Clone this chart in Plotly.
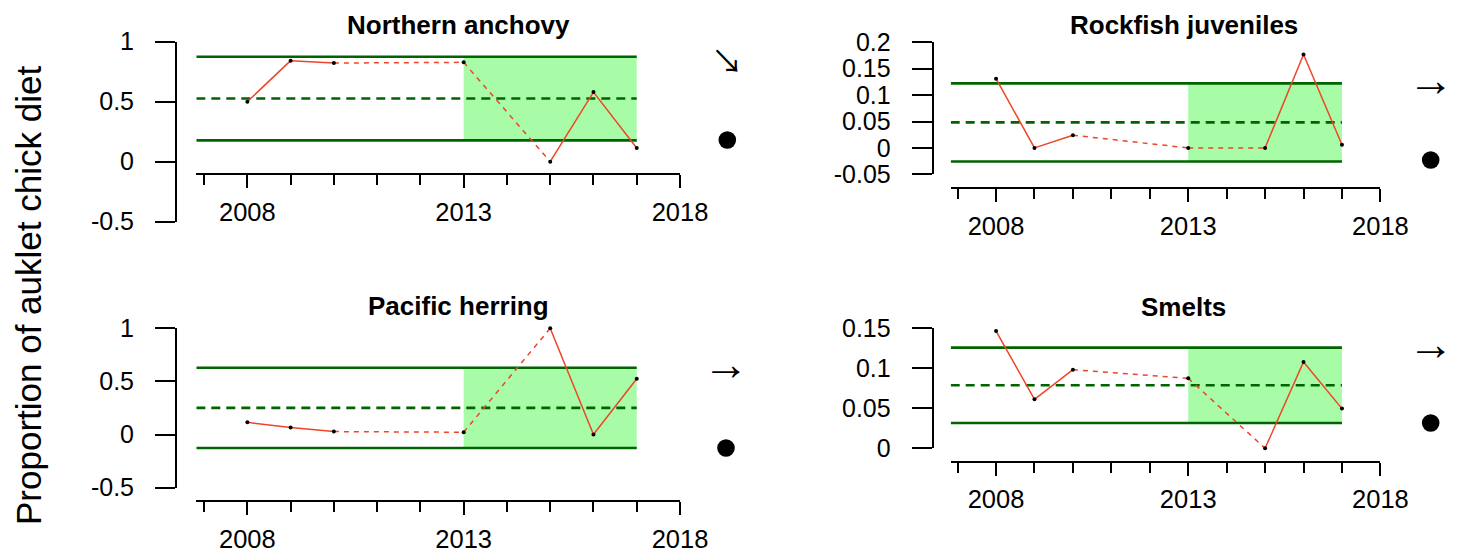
import numpy as np
import plotly.graph_objects as go

W, H = 1458, 555

# Survey years (2011, 2012 and 2014 were not sampled)
years = [2008, 2009, 2010, 2013, 2015, 2016, 2017]

species = ["Northern anchovy", "Rockfish juveniles", "Pacific herring", "Smelts"]

# Proportion of auklet chick diet by prey group
anchovy = [0.500, 0.842, 0.822, 0.828, 0.000, 0.580, 0.114]
rockfish = [0.131, 0.000, 0.024, 0.000, 0.000, 0.177, 0.006]
herring = [0.115, 0.066, 0.028, 0.022, 1.000, 0.000, 0.526]
smelts = [0.1466, 0.0612, 0.0983, 0.0875, 0.000, 0.108, 0.0496]

# Trend over the recent period (arrow) and status marker
trend_symbols = ["↘", "→", "→", "→"]

x_ticks = [2008, 2013, 2018]
x_tick_labels = ["2008", "2013", "2018"]

y_ticks_anchovy = [-0.5, 0, 0.5, 1]
y_labels_anchovy = ["-0.5", "0", "0.5", "1"]
y_ticks_rockfish = [-0.05, 0, 0.05, 0.1, 0.15, 0.2]
y_labels_rockfish = ["-0.05", "0", "0.05", "0.1", "0.15", "0.2"]
y_ticks_herring = [-0.5, 0, 0.5, 1]
y_labels_herring = ["-0.5", "0", "0.5", "1"]
y_ticks_smelts = [0, 0.05, 0.1, 0.15]
y_labels_smelts = ["0", "0.05", "0.1", "0.15"]

recent_start, recent_end = 2013, 2017
x_start = 2006.82

series = [anchovy, rockfish, herring, smelts]
y_ticks = [y_ticks_anchovy, y_ticks_rockfish, y_ticks_herring, y_ticks_smelts]
y_labels = [y_labels_anchovy, y_labels_rockfish, y_labels_herring, y_labels_smelts]

# Pixel geometry of each panel
geom = [
    dict(yx=176.0, xs=(196.3, 680.0), ys=(41.7, 221.7), xy=174.0,
         title=(458.3, 25.5), arrow=(727.0, 59.0), dot=(727.3, 140.0)),
    dict(yx=932.7, xs=(950.7, 1380.4), ys=(42.3, 174.3), xy=188.3,
         title=(1183.5, 25.5), arrow=(1430.5, 80.0), dot=(1430.7, 160.0)),
    dict(yx=176.0, xs=(196.3, 680.0), ys=(328.3, 487.7), xy=501.0,
         title=(458.3, 306.0), arrow=(725.5, 364.0), dot=(726.0, 448.0)),
    dict(yx=932.7, xs=(950.7, 1380.4), ys=(328.3, 448.3), xy=461.7,
         title=(1183.5, 307.0), arrow=(1430.5, 344.0), dot=(1430.7, 423.0)),
]

# glyph styling for the trend arrows
arrow_style = {
    "→": dict(family="Liberation Sans", size=46),
    "↘": dict(family="Noto Sans CJK JP", size=32),
}


def px(x):
    return x / W


def py(y):
    return 1 - y / H


FONT = "Liberation Sans, Arial, Helvetica, sans-serif"
RED = "#EE4428"
DKGREEN = "#006400"
FILL = "#A9FCA7"

fig = go.Figure()
shapes = []
annotations = []

for i, (name, vals, g) in enumerate(zip(species, series, geom)):
    n = i + 1
    xa = "x" if n == 1 else f"x{n}"
    ya = "y" if n == 1 else f"y{n}"
    xa_key = "xaxis" if n == 1 else f"xaxis{n}"
    ya_key = "yaxis" if n == 1 else f"yaxis{n}"

    v = np.array(vals, dtype=float)
    mean = v.mean()
    sd = v.std(ddof=1)

    # recent-period box spanning mean +/- 1 sd
    shapes.append(dict(type="rect", xref=xa, yref=ya, x0=recent_start, x1=recent_end,
                       y0=mean - sd, y1=mean + sd, fillcolor=FILL,
                       line=dict(width=0), layer="below"))
    for yv, dash in [(mean + sd, "solid"), (mean - sd, "solid"), (mean, "9px,6px")]:
        shapes.append(dict(type="line", xref=xa, yref=ya, x0=x_start, x1=recent_end,
                           y0=yv, y1=yv, line=dict(color=DKGREEN, width=2.6, dash=dash),
                           layer="below"))

    # consecutive years joined by solid lines, gaps bridged by dashed lines
    sx, sy, dx, dy = [], [], [], []
    for k in range(len(years) - 1):
        seg_x = [years[k], years[k + 1], None]
        seg_y = [vals[k], vals[k + 1], None]
        if years[k + 1] - years[k] == 1:
            sx += seg_x
            sy += seg_y
        else:
            dx += seg_x
            dy += seg_y
    fig.add_trace(go.Scatter(x=sx, y=sy, mode="lines", xaxis=xa, yaxis=ya,
                             line=dict(color=RED, width=1.5), cliponaxis=False,
                             showlegend=False, hoverinfo="skip"))
    fig.add_trace(go.Scatter(x=dx, y=dy, mode="lines", xaxis=xa, yaxis=ya,
                             line=dict(color=RED, width=1.5, dash="5px,5px"),
                             cliponaxis=False, showlegend=False, hoverinfo="skip"))
    fig.add_trace(go.Scatter(x=years, y=vals, mode="markers", xaxis=xa, yaxis=ya,
                             marker=dict(color="black", size=4), cliponaxis=False,
                             showlegend=False, name=name))

    fig.layout[xa_key] = dict(
        domain=[px(g["xs"][0]), px(g["xs"][1])], range=[x_start, 2018.0001],
        anchor="free", position=py(g["xy"]), automargin=False,
        tickmode="array", tickvals=x_ticks, ticktext=x_tick_labels,
        ticks="outside", ticklen=13, tickwidth=2, tickcolor="black",
        showline=True, linewidth=2, linecolor="black",
        showgrid=False, zeroline=False, ticklabelstandoff=2,
        tickfont=dict(family=FONT, size=25.5, color="black"),
        minor=dict(tickmode="linear", tick0=2007, dtick=1, ticks="outside",
                   ticklen=10, tickwidth=2, tickcolor="black", showgrid=False),
    )
    yt = y_ticks[i]
    fig.layout[ya_key] = dict(
        domain=[py(g["ys"][1]), py(g["ys"][0])], range=[min(yt), max(yt)],
        anchor="free", position=px(g["yx"]), automargin=False,
        tickmode="array", tickvals=yt, ticktext=y_labels[i],
        ticks="outside", ticklen=20, tickwidth=2, tickcolor="black",
        showline=True, linewidth=2, linecolor="black",
        showgrid=False, zeroline=False, ticklabelstandoff=16,
        tickfont=dict(family=FONT, size=25, color="black"),
    )

    annotations.append(dict(text=f"<b>{name}</b>", x=px(g["title"][0]), y=py(g["title"][1]),
                            xref="paper", yref="paper", xanchor="center", yanchor="middle",
                            showarrow=False, font=dict(family=FONT, size=26, color="black")))
    sym = trend_symbols[i]
    annotations.append(dict(text=sym, x=px(g["arrow"][0]), y=py(g["arrow"][1]),
                            xref="paper", yref="paper", xanchor="center", yanchor="middle",
                            showarrow=False, font=dict(color="black", **arrow_style[sym])))
    r = 8.8
    shapes.append(dict(type="circle", xref="paper", yref="paper",
                       x0=px(g["dot"][0] - r), x1=px(g["dot"][0] + r),
                       y0=py(g["dot"][1] + r), y1=py(g["dot"][1] - r),
                       fillcolor="black", line=dict(width=0)))

annotations.append(dict(text="Proportion of auklet chick diet", textangle=-90,
                        x=px(28), y=py(296), xref="paper", yref="paper",
                        xanchor="center", yanchor="middle", showarrow=False,
                        font=dict(family=FONT, size=35, color="black")))

fig.update_layout(
    width=W, height=H, margin=dict(l=0, r=0, t=0, b=0, autoexpand=False),
    paper_bgcolor="white", plot_bgcolor="white",
    shapes=shapes, annotations=annotations, showlegend=False,
)

fig.write_html("out.html")
